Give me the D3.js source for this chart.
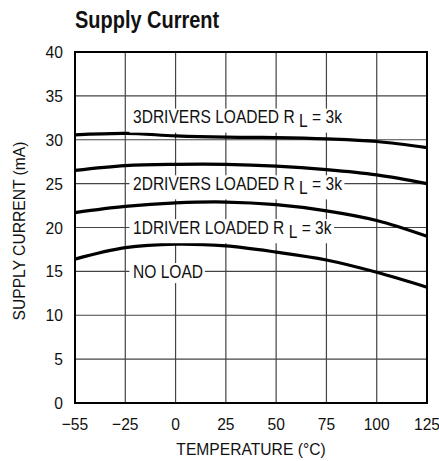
<!DOCTYPE html>
<html lang="en">
<head>
<meta charset="UTF-8">
<script src="https://cdnjs.cloudflare.com/ajax/libs/d3/7.8.5/d3.min.js"></script>
<style>
  body { margin: 0; background: #fff; }
  text { font-family: "Liberation Sans", Arial, sans-serif; fill: #111; }
</style>
</head>
<body>
<svg id="chart" width="439" height="461"></svg>
<script>
// values
var temps = [-55, -25, 0, 25, 50, 75, 100, 125];
var tempLabels = ['\u221255', '\u221225', '0', '25', '50', '75', '100', '125'];
var currentTicks = [0, 5, 10, 15, 20, 25, 30, 35, 40];

var threeDrivers = [30.55, 30.72, 30.45, 30.3, 30.25, 30.1, 29.8, 29.1];
var twoDrivers   = [26.5, 27.05, 27.2, 27.2, 27.0, 26.6, 26.0, 25.0];
var oneDriver    = [21.7, 22.4, 22.8, 22.9, 22.6, 21.9, 20.8, 19.0];
var noLoad       = [16.4, 17.7, 18.1, 17.9, 17.2, 16.3, 14.9, 13.2];

var seriesNames = ['3DRIVERS LOADED R', '2DRIVERS LOADED R', '1DRIVER LOADED R', 'NO LOAD'];
var labelAt = [32.6, 25, 20, 15];

var svg = d3.select('#chart');
var margin = {left: 75, top: 52, right: 12, bottom: 58};
var w = 439 - margin.left - margin.right;
var h = 461 - margin.top - margin.bottom;

// grid is evenly spaced, first step is -55 -> -25
var x = d3.scaleLinear().domain([-55, -25, 125]).range([0, w / 7, w]);
var y = d3.scaleLinear().domain([0, 40]).range([h, 0]);

// condensed text: squeeze horizontally around the anchor point
function narrowText(parent, px, py, sx, extra) {
    return parent.append('g')
        .attr('transform', 'translate(' + px + ',' + py + ')' + (extra || '') + ' scale(' + sx + ',1)')
        .append('text');
}

narrowText(svg, 75, 28, 0.85)
    .style('font-size', '23.5px').style('font-weight', 'bold')
    .text('Supply Current');

var g = svg.append('g').attr('transform', 'translate(' + margin.left + ',' + margin.top + ')');

// grid
g.selectAll('.vgrid').data(temps).enter().append('line')
    .attr('x1', function(d) { return x(d); }).attr('x2', function(d) { return x(d); })
    .attr('y1', 0).attr('y2', h)
    .attr('stroke', '#444').attr('stroke-width', 1.2);
g.selectAll('.hgrid').data(currentTicks).enter().append('line')
    .attr('x1', 0).attr('x2', w)
    .attr('y1', function(d) { return y(d); }).attr('y2', function(d) { return y(d); })
    .attr('stroke', '#444').attr('stroke-width', 1.2);

// curves
var line = d3.line()
    .x(function(d, i) { return x(temps[i]); })
    .y(function(d) { return y(d); })
    .curve(d3.curveCatmullRom.alpha(0.5));
[threeDrivers, twoDrivers, oneDriver, noLoad].forEach(function(s) {
    g.append('path').attr('d', line(s))
        .attr('fill', 'none').attr('stroke', '#000').attr('stroke-width', 3.2);
});

// labels with white boxes over the grid
seriesNames.forEach(function(name, i) {
    var t = narrowText(g, 58, y(labelAt[i]) + 6.5, 0.89).style('font-size', '17.5px');
    var bg = d3.select(t.node().parentNode).insert('rect', 'text').attr('fill', '#fff');
    t.append('tspan').text(name);
    if (i < 3) {
        t.append('tspan').attr('dx', 5).attr('dy', 4).text('L');
        t.append('tspan').attr('dy', -4).text(' = 3k');
    }
    var b = t.node().getBBox();
    bg.attr('x', b.x - 4).attr('y', b.y + 1).attr('width', b.width + 6).attr('height', b.height);
});

// frame
g.append('rect').attr('width', w).attr('height', h)
    .attr('fill', 'none').attr('stroke', '#000').attr('stroke-width', 2);

// tick labels
temps.forEach(function(d, i) {
    narrowText(g, x(d), h + 27, 0.92)
        .attr('text-anchor', 'middle').style('font-size', '17px')
        .text(tempLabels[i]);
});
currentTicks.forEach(function(d) {
    narrowText(g, -12, y(d) + 6, 0.92)
        .attr('text-anchor', 'end').style('font-size', '17px')
        .text(d);
});

narrowText(svg, margin.left + w / 2, 455, 0.92)
    .attr('text-anchor', 'middle').style('font-size', '17px')
    .text('TEMPERATURE (\u00B0C)');
narrowText(svg, 25, 231, 0.92, ' rotate(-90)')
    .attr('text-anchor', 'middle').style('font-size', '17px')
    .text('SUPPLY CURRENT (mA)');
</script>
</body>
</html>
